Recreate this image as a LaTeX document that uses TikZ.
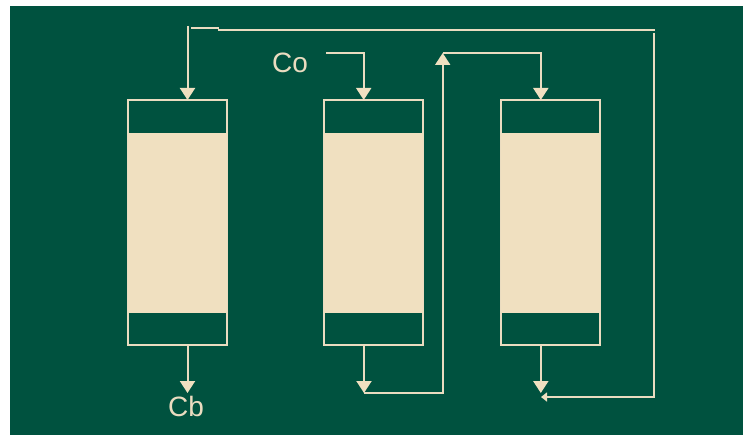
\documentclass[tikz,border=0pt]{standalone}
\usepackage{fontspec}
\setmainfont{Liberation Sans}
\usetikzlibrary{arrows.meta}
\definecolor{bgreen}{HTML}{00523F}
\definecolor{tan1}{HTML}{F0E0C0}
\definecolor{line1}{HTML}{EADCC0}
\tikzset{
  vessel/.style={draw=line1,line width=2pt,fill=bgreen,inner sep=0pt,minimum width=99pt,minimum height=245pt},
  packing/.style={fill=tan1,inner sep=0pt,minimum width=99pt,minimum height=180pt},
  pipe/.style={draw=line1,line width=2pt},
  flow/.style={pipe,-{Triangle[length=12pt,width=15pt,color=tan1]}},
  flowsmall/.style={pipe,-{Triangle[length=6pt,width=9pt,color=tan1]}},
  lbl/.style={text=line1,font=\fontsize{28}{28}\selectfont,inner sep=0pt}
}
\begin{document}
\begin{tikzpicture}[x=1pt,y=-1pt]
\useasboundingbox (0,0) rectangle (743,435);
\fill[white] (0,0) rectangle (743,435);
\fill[bgreen] (10,6) rectangle (743,435);
% vessels
\node[vessel] (v1) at (177.5,222.5) {};
\node[vessel] (v2) at (373.5,222.5) {};
\node[vessel] (v3) at (550.5,222.5) {};
\node[packing] (p1) at (177.5,223) {};
\node[packing] (p2) at (373.5,223) {};
\node[packing] (p3) at (550.5,223) {};
% labels
\node[lbl] (co) at (290,63) {Co};
\node[lbl] (cb) at (186,406) {Cb};
% free ends
\coordinate (a1) at (187.5,26);
\coordinate (b1) at (187.5,100);
\coordinate (r0) at (191,28.3);
\coordinate (r1) at (219,28.3);
\coordinate (r2) at (218,30.3);
\coordinate (r3) at (655,30.3);
\coordinate (r4) at (654,33);
\coordinate (r5) at (654,397);
\coordinate (r6) at (541,397);
\coordinate (c0) at (326,53);
\coordinate (c1) at (363.7,53);
\coordinate (c2) at (363.7,100);
\coordinate (d0) at (364,345);
\coordinate (d1) at (364,393);
\coordinate (d2) at (442.7,393);
\coordinate (d3) at (442.7,53);
\coordinate (e0) at (540.8,53);
\coordinate (e1) at (540.8,100);
\coordinate (f0) at (540.8,345);
\coordinate (f1) at (540.8,393);
\coordinate (g0) at (187.5,345);
\coordinate (g1) at (187.5,393);
% connectors
\draw[flow] (a1) -- (b1);
\draw[pipe] (r0) -- (r1);
\draw[pipe] (r2) -- (r3);
\draw[flowsmall] (r4) -- (r5) -- (r6);
\draw[flow] (c0) -- (c1) -- (c2);
\draw[flow] (d0) -- (d1);
\draw[flow] (d1) -- (d2) -- (d3);
\draw[flow] (d3) -- (e0) -- (e1);
\draw[flow] (f0) -- (f1);
\draw[flow] (g0) -- (g1);
\end{tikzpicture}
\end{document}
